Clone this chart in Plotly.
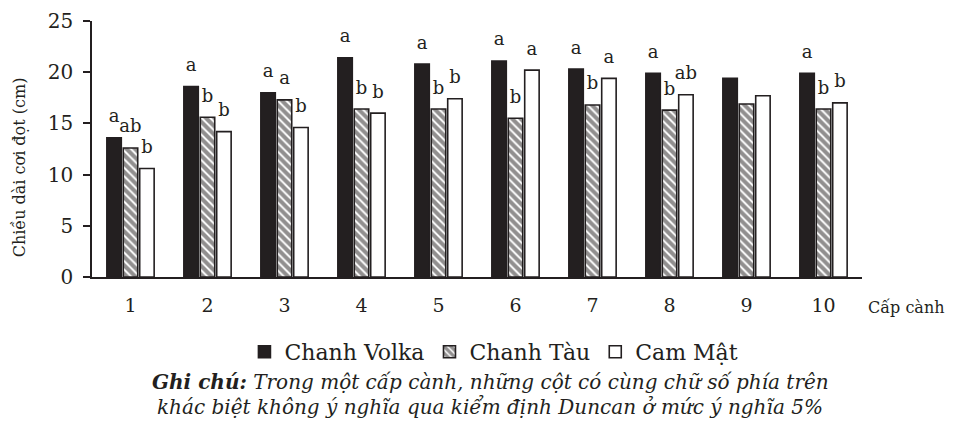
import plotly.graph_objects as go

categories = ["1", "2", "3", "4", "5", "6", "7", "8", "9", "10"]
volka = [13.6, 18.6, 18.0, 21.4, 20.8, 21.1, 20.3, 19.9, 19.4, 19.9]
tau = [12.6, 15.6, 17.3, 16.4, 16.4, 15.5, 16.8, 16.3, 16.9, 16.4]
camat = [10.6, 14.2, 14.6, 16.0, 17.4, 20.2, 19.4, 17.8, 17.7, 17.0]
letters_volka = ["a", "a", "a", "a", "a", "a", "a", "a", "", "a"]
letters_tau = ["ab", "b", "a", "b", "b", "b", "b", "b", "", "b"]
letters_camat = ["b", "b", "b", "b", "b", "a", "a", "ab", "", "b"]

FONT = "DejaVu Serif, Liberation Serif, serif"
INK = "#231f20"
series = [
    ("Chanh Volka", volka, letters_volka, dict(color=INK, line=dict(color=INK, width=1.6))),
    ("Chanh Tàu", tau, letters_tau, dict(color="white", line=dict(color=INK, width=1.6),
                                         pattern=dict(shape="\\", fgcolor=INK, bgcolor="white",
                                                      size=6, solidity=0.68))),
    ("Cam Mật", camat, letters_camat, dict(color="white", line=dict(color=INK, width=1.6))),
]

fig = go.Figure()
for i, (name, vals, lets, marker) in enumerate(series):
    fig.add_trace(go.Bar(x=categories, y=vals, name=name, marker=marker,
                         offsetgroup=str(i), legendgroup=name))
for i, (name, vals, lets, marker) in enumerate(series):
    fig.add_trace(go.Scatter(x=categories, y=vals, text=lets, mode="markers+text",
                             textposition="top center", offsetgroup=str(i),
                             marker=dict(size=16, opacity=0), showlegend=False,
                             textfont=dict(family=FONT, size=18, color=INK),
                             cliponaxis=False, hoverinfo="skip"))

# page body has an 8px default margin: figure is shrunk so it fits 953x437
fig.update_layout(
    width=945, height=429,
    margin=dict(l=84, r=91, t=13, b=160, autoexpand=False),
    plot_bgcolor="white", paper_bgcolor="white",
    barmode="group", bargap=0.36, bargroupgap=0.12, scattermode="group",
    font=dict(family=FONT, size=18, color=INK),
    showlegend=True,
    legend=dict(orientation="h", x=0.522, xanchor="center", y=-0.293, yanchor="middle",
                font=dict(family=FONT, size=22, color=INK), itemwidth=30,
                traceorder="normal"),
)
fig.update_xaxes(type="category", showline=True, linecolor=INK, linewidth=2,
                 ticks="outside", ticklen=10, tickcolor="rgba(0,0,0,0)", showgrid=False,
                 tickfont=dict(family=FONT, size=19, color=INK))
fig.update_yaxes(range=[0, 25], dtick=5, showline=True, linecolor=INK, linewidth=1.5,
                 ticks="outside", ticklen=7, tickcolor=INK, tickwidth=1.5, showgrid=False,
                 zeroline=False, ticklabelstandoff=6,
                 tickfont=dict(family=FONT, size=20, color=INK))

fig.add_annotation(text="Chiều dài cơi đọt (cm)", textangle=-90, xref="paper", yref="paper",
                   x=-0.093, y=0.43, xanchor="center", yanchor="middle", showarrow=False,
                   font=dict(family=FONT, size=16, color=INK))
fig.add_annotation(text="Cấp cành", xref="paper", yref="paper", x=1.0, xanchor="left",
                   y=-0.12, yanchor="middle", showarrow=False, xshift=4,
                   font=dict(family=FONT, size=16, color=INK))
fig.add_annotation(text="<b><i>Ghi chú:</i></b><i> Trong một cấp cành, những cột có cùng chữ số phía trên</i>",
                   xref="paper", yref="paper", x=0.517, y=-0.41, xanchor="center", yanchor="middle",
                   showarrow=False, font=dict(family=FONT, size=20, color=INK))
fig.add_annotation(text="<i>khác biệt không ý nghĩa qua kiểm định Duncan ở mức ý nghĩa 5%</i>",
                   xref="paper", yref="paper", x=0.517, y=-0.508, xanchor="center", yanchor="middle",
                   showarrow=False, font=dict(family=FONT, size=20, color=INK))

fig.write_html("out.html")
